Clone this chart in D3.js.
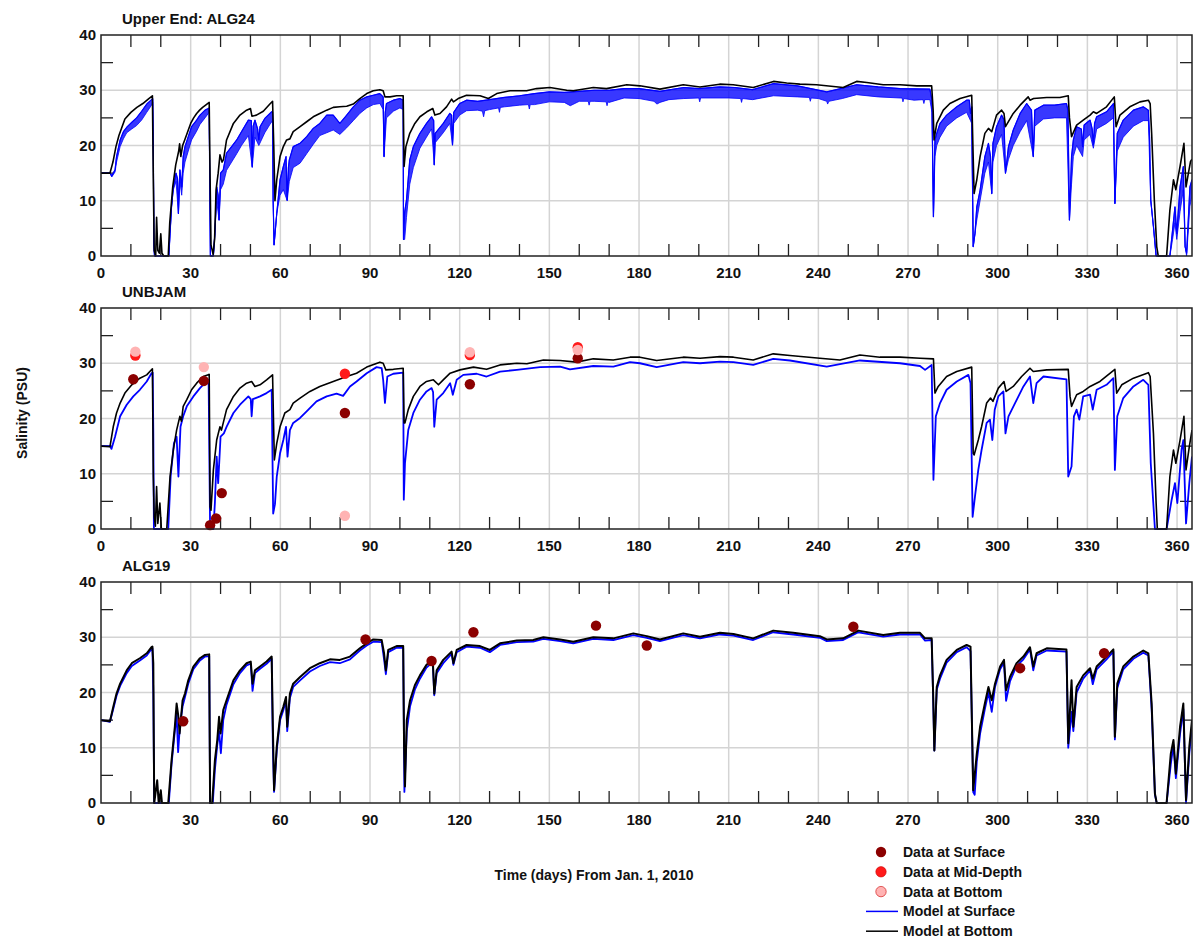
<!DOCTYPE html>
<meta charset="utf-8">
<script src="https://d3js.org/d3.v7.min.js"></script>
<style>
  body { margin: 0; background: #fff; }
  svg text { font-family: "Liberation Sans", Arial, sans-serif; font-weight: bold; fill: #111; }
</style>
<div id="chart"></div>
<script>

// ---- data: [day, salinity] ----

// Upper End: ALG24
var bot1 = [[0,15],[3,15],[4,17],[5,19.8],[6,21.8],[7,23.3],[8,24.8],[10,26],[12,26.9],[14,27.6],[16,28.5],[17.2,29],[17.5,14],[17.8,1],[18.3,0],[18.6,7],[19,1],[19.5,0.5],[20,4],[20.4,0.5],[21,0],[22.5,0],[23,6],[24,12.5],[25,16.5],[26,19],[26.3,20.3],[26.7,18],[27.3,20],[28,21],[29,22.5],[30,24],[31,25],[32,25.8],[33,26.4],[34,26.9],[35,27.3],[36.2,27.8],[36.5,14],[36.8,2],[37.5,0.3],[38,3],[38.5,12],[39.2,15],[39.8,18.3],[40.5,17],[41,17.5],[42,21],[44.3,24],[46.5,25.5],[48.7,26.4],[50,26.7],[50.5,25.3],[52,25.5],[54.3,26.2],[56.5,27.5],[57.4,28],[57.8,20],[58.2,10],[58.8,13.8],[59.9,18],[61,19.8],[62.1,21],[63.2,21.2],[64.3,22.5],[66.6,23.4],[68.8,24.3],[71,25.2],[73.2,25.8],[75.5,26.4],[77.7,26.9],[79.9,27],[82.2,27.1],[84.4,27.5],[86.6,28.5],[88.9,29.4],[91.1,29.9],[93.3,30.1],[94.4,29.9],[95,28.8],[96.7,28.8],[98.9,29],[101.1,29],[101.4,16.2],[102,19.8],[103.3,22.2],[105,24],[106.7,25.2],[109,26.1],[111,26.7],[111.7,25.5],[113.4,25.8],[115.6,27],[117.3,28.4],[117.9,27.9],[119.5,28.5],[122.3,29.1],[126.8,29],[129.6,28.5],[132.4,29.4],[136.8,29.9],[142.4,29.9],[145.7,30.3],[150.2,30.5],[155.8,30],[158,29.9],[164.7,30.5],[169.1,30.3],[175.9,31],[180.3,30.8],[187,30.2],[194.8,31],[200.4,30.6],[207,31.1],[211.5,31],[218.2,30.5],[225,31.6],[229.4,31.3],[233.8,31.1],[239.4,31],[248.3,30.5],[252.8,31.6],[256.2,31.4],[261.7,31],[267.3,31],[272.9,30.8],[277.9,30.8],[278.4,26.4],[278.7,21],[279.6,24],[281.8,26.4],[284,27.6],[287.4,28.5],[291.3,29.1],[291.7,20],[292.1,11.3],[293,13.8],[294.1,18],[295.7,22.2],[296.9,23.1],[298,22.5],[299.6,25.5],[301.3,26.4],[302.1,25.8],[302.6,23.4],[305.2,25.8],[307.5,27.3],[310.2,28.8],[310.8,28.2],[312,28.5],[316.4,28.7],[320.8,28.7],[323.6,29],[324,25],[324.7,21.6],[326.4,23.7],[328.6,24.6],[330.9,25.5],[332,26.1],[333.1,25.8],[336.4,27],[339,28.8],[339.6,23.4],[340.9,25.5],[344.2,27],[347.6,27.9],[350.4,28.2],[351,27.6],[351.5,22.2],[352.4,10.1],[353.2,1.7],[353.7,0],[356.5,0],[357.6,8.3],[358.8,13.8],[359.6,12],[361,16.2],[362.3,20.4],[363,12.5],[363.8,15],[364.5,17.1],[365,17.5]];

// top edge of the blue (surface) band
var surf1 = [[0,15],[3,15],[3.6,14.5],[4.7,15.6],[5.2,18],[6.4,21],[7.5,22.5],[8.6,23.3],[10.3,24.2],[11.9,25],[13.6,26.2],[15.3,27.5],[16.9,28.3],[17.3,28.5],[17.5,20],[17.7,2],[17.9,0],[22.7,0],[23.1,4.1],[23.6,8.9],[24.2,12.5],[25.1,15],[25.6,14],[25.9,7.7],[26.2,13],[26.4,15.6],[27,12.5],[27.5,18],[28.1,19.8],[29.2,21.6],[30.3,23.4],[32,24.6],[33.1,25.5],[34.8,26.4],[35.9,26.7],[36.2,26.8],[36.4,12],[36.6,0],[37.6,0],[38.1,4.1],[38.7,12.5],[39.2,11],[39.5,6.5],[40,15],[40.9,15.6],[42,18.6],[43.7,19.8],[45.4,21],[47,22.5],[49.3,24.6],[50.3,24.5],[50.6,16.2],[50.9,23.5],[51.5,24.6],[52.4,23],[52.8,21],[53.2,23.4],[54.8,24.9],[56.5,25.8],[57.1,26.1],[57.4,26],[57.6,10],[57.9,2],[58.8,7.7],[59.9,13.8],[61,16.2],[61.9,18],[62.3,10.1],[62.7,16],[63,17.4],[64.3,19.8],[66.6,20.4],[68.8,21.6],[71,23.1],[73.2,24],[75.5,25.5],[77.7,25.5],[79.9,24],[82.2,25.5],[84.4,27],[86.6,28.2],[88.9,28.8],[91.1,29.1],[93.3,29.4],[94.4,28.8],[94.7,18],[95.1,26],[95.5,27.6],[97.8,28.2],[100,28.5],[101.1,28.2],[101.2,3],[101.6,8],[102.2,10.1],[103.3,17.4],[104.5,19.8],[106.7,22.2],[108.9,24],[110.6,25.2],[111.3,24.5],[111.5,16.5],[111.8,22.2],[114.5,24],[116.7,25.8],[117.3,25.5],[117.6,20.1],[118,26],[120,27.6],[122.3,28.2],[126,28],[130,28.3],[135,28.7],[140,29],[145,29.4],[150,29.7],[155,29.6],[160,29.8],[165,30],[170,30],[175,30.3],[180,30.3],[187,29.8],[195,30.5],[200,30.3],[207,30.6],[212,30.5],[218,30.1],[225,31.2],[233,30.8],[242.8,29.7],[252.8,31],[260,30.6],[267.3,30.3],[277.3,30.2],[278,28.2],[278.5,7.1],[279,21],[279.6,22.2],[280.7,24],[282.9,25.5],[286.3,27],[289.6,28.2],[290.5,28.2],[290.9,25.8],[291.3,27],[291.8,1.7],[292.4,4.1],[293,8.9],[294.1,11.9],[295.7,18],[296.9,20.4],[297.6,18],[298,11.3],[298.4,20.4],[299.6,23.4],[301.3,25.5],[302.1,24.6],[302.6,15],[303.6,19.8],[305.2,22.8],[307.5,25.8],[309.7,27.6],[311.3,26.4],[311.9,18],[312.4,26.4],[315.3,27.3],[319,27.3],[323,27.6],[323.5,26.4],[324,6.5],[324.7,18],[325.3,21],[326.4,23.4],[328,23],[328.4,19.8],[328.9,23.7],[330.9,24.6],[331.6,23],[332,20.1],[332.4,24],[333.1,25.2],[336.4,26.1],[338.7,27.6],[339.2,9.5],[340,22.2],[342,24.6],[345.4,26.4],[348.7,27],[350.4,26.4],[350.8,21.6],[351.2,10.1],[352.1,5.3],[353,0],[357.6,0],[358.5,4.7],[359.3,8.9],[359.9,4.1],[361,12.5],[362.1,16.2],[362.7,1.7],[363.2,0.5],[364.3,12.5],[365,13.8]];

// bottom edge of the tidal blue band, with its short downward spikes
var surfLo1 = [[0,15],[3,15],[3.6,14.3],[4.7,15.2],[5.2,17],[6.4,19.8],[7.5,21.2],[8.6,22.3],[10.3,23],[11.9,23.6],[13.6,24.6],[15.3,26],[16.9,27.3],[17.3,27.8],[17.5,20],[17.7,2],[17.9,0],[22.7,0],[23.1,4.1],[23.6,8.9],[24.2,12],[25.1,13.5],[25.9,7.7],[26.4,13.5],[27,11],[27.5,15],[28.1,17],[29.2,19],[30.3,21],[32,22.6],[33.1,23.8],[34.8,25],[35.9,25.8],[36.2,26],[36.4,12],[36.6,0],[37.6,0],[38.1,4.1],[38.7,10],[39.5,6.5],[40,12],[40.9,13],[42,15.5],[43.7,17],[45.4,18.5],[47,20],[49.3,21.8],[50.6,16],[51.5,21.5],[52.8,20],[54.8,22.3],[56.5,23.8],[57.4,24.5],[57.6,10],[57.9,2],[58.8,7.7],[59.9,11],[61,12],[62.3,10],[63,13.5],[64.3,16],[66.6,16.8],[68.8,18.5],[71,20.2],[73.2,21.8],[75.5,22.3],[77.7,22.8],[79.9,22],[82.2,23.2],[84.4,24.5],[86.6,25.8],[88.9,26.8],[91.1,27.4],[93.3,27.6],[94.4,26.5],[94.7,18],[95.5,25],[97.8,26.2],[100,26.8],[101.1,26.5],[101.2,3],[101.6,3],[102.2,7],[103.3,13],[104.5,16],[106.7,19.5],[108.9,21.5],[110.6,23],[111.5,16.5],[111.8,20.5],[114.5,22.3],[116.7,24],[117.6,20.1],[118,24],[120,25.5],[122.3,26.3],[126,26.4],[127.6,26.2],[128,25.2],[128.4,26.3],[130,26.5],[133,26.8],[133.3,26],[133.6,26.9],[135,27],[140,27.3],[143,27.4],[143.3,26.6],[143.6,27.4],[145,27.4],[150,27.9],[155,27.8],[157,27.2],[160,28],[163,28],[163.3,27.3],[163.6,28],[165,28],[169,27.9],[169.3,27.2],[169.6,27.9],[170,27.8],[175,28.6],[180,28.5],[185,28],[186,27.5],[187,27.8],[190,28.3],[195,28.5],[200,28.6],[200.3,27.9],[200.6,28.6],[210,28.6],[214,28.5],[214.3,27.8],[214.6,28.5],[218,28.3],[225,29],[233,28.8],[237,28.7],[237.3,28],[237.6,28.6],[240,28.5],[242.8,28],[243.1,27.5],[243.5,28],[248,28.5],[252.8,29.2],[260,28.8],[267.3,28.6],[268,28.6],[268.3,27.9],[268.6,28.5],[272,28.2],[275,28.3],[275.3,27.6],[275.6,28.3],[277.3,28.3],[278,26],[278.5,7.1],[279,18],[279.6,20],[280.7,21.5],[282.9,23.5],[286.3,25],[289.6,26],[290.9,24.5],[291.3,24],[291.8,1.7],[292.4,4.1],[293,6.5],[294.1,10],[295.7,15],[296.9,17],[298,11.3],[298.4,17],[299.6,20],[301.3,22],[302.6,15],[303.6,17.5],[305.2,20],[307.5,22.5],[309.7,24.5],[311.9,18],[312.4,23.5],[315.3,24.8],[319,25],[323,25],[324,6.5],[324.7,13],[325.3,18],[326.4,20],[328.4,18],[328.9,21],[330.9,22],[332,19.5],[333.1,23],[336.4,24],[338.7,25],[339.2,9.5],[340,19],[342,21.5],[345.4,23.5],[348.7,24.5],[350.4,24.5],[351.2,10.1],[352.1,5.3],[353,0],[357.6,0],[358.5,3],[359.3,6],[359.9,3],[361,8],[362.1,12],[362.7,1.7],[363.2,0],[364.3,9],[365,11]];

// UNBJAM
var bot2 = [[0,15],[3,14.9],[4.1,18.5],[5.2,21],[6.4,22.8],[8,24.6],[10.3,26.1],[13,27.3],[15.3,27.9],[17.2,29],[17.5,9.5],[17.8,2.2],[18.2,0.5],[18.6,7.7],[19,1],[19.7,4.7],[20.2,0],[22,0],[23.1,9.5],[24.2,14.3],[25.3,17.9],[26.4,20.4],[26.9,19.5],[27.5,22.2],[28.7,23.4],[30.3,25.2],[32,26.4],[34.2,27.6],[35.9,27.9],[36.2,28],[36.5,4],[36.8,3.4],[37.6,10.7],[38.7,16.1],[39.8,18.5],[40.3,17.9],[42,21.6],[44.3,24],[46.5,25.5],[48.7,26.4],[50.4,26.7],[51.5,25.8],[53.2,26.1],[55.4,27],[57.4,27.9],[57.7,20],[58,12.5],[58.8,15.5],[59.9,18.5],[61.5,21],[63.2,21.6],[64.3,22.8],[66.6,23.7],[69.9,24.9],[73.2,25.8],[77.7,26.7],[82.2,27.6],[85.5,28.2],[88.9,29.3],[93.3,30.2],[94.4,30],[95.3,28.8],[97.8,28.9],[101.1,29.1],[101.4,19.2],[101.7,19.2],[102.8,21.6],[104.5,24],[106.7,25.8],[108.9,26.7],[111.2,27],[112.9,26.1],[114.5,27],[116.8,28.2],[120.1,28.8],[124.6,29.3],[129,28.9],[133.5,29.7],[139.1,30],[142.5,29.9],[148,30.6],[153.6,30.5],[159.1,30.2],[164.7,30.8],[171.4,30.6],[177,31.1],[180.3,31.1],[185.9,30.5],[194.8,31.1],[200.4,30.9],[207.1,31.2],[211.6,31.1],[218.2,30.6],[224.9,31.7],[230.5,31.4],[240.5,30.9],[247.2,30.6],[253.9,31.5],[260.6,31.1],[267.3,31.1],[274,30.9],[278.5,30.8],[279,24.6],[280.1,25.8],[282.9,27.6],[286.3,28.5],[291.3,29.3],[291.8,13.7],[292.1,13.4],[293.5,16.1],[294.6,18.5],[296.3,22.8],[297.6,23.7],[298.4,23.1],[300.2,25.5],[302.1,26.7],[302.8,24.9],[305.2,25.8],[308,27.6],[310.8,29.1],[311.9,28.5],[316.4,28.8],[323.6,28.9],[324.2,24],[324.7,22.2],[326.4,24.3],[328.6,24.9],[330.9,25.8],[334.2,26.7],[339.2,28.9],[339.8,24.6],[341.5,26.1],[345.4,27.3],[350.4,28.3],[351,27.6],[352.1,17.3],[353,4.7],[353.4,0],[356.5,0],[357.6,9.5],[358.8,14.3],[359.6,11.9],[361,16.1],[362.3,20.4],[363,10.7],[364.1,14.9],[365,17.9]];

var surf2 = [[0,15],[3,15],[3.5,14.5],[4.7,16.7],[6.4,20.4],[8.6,22.5],[10.8,24],[13,25.2],[15.3,26.7],[16.9,28.2],[17.3,28.3],[17.5,17.5],[17.7,0],[22.5,0],[23.3,9.5],[24.4,15.5],[25.3,16.7],[25.9,9.5],[26.6,18.5],[27.5,20.4],[28.7,22.2],[30.9,24],[33.1,25.5],[35.3,26.7],[36,27],[36.5,0],[37.6,0],[38.1,4.7],[38.7,13.1],[39.2,8.3],[40,16.7],[41.1,17.3],[42,18.5],[44.3,21],[46.5,22.5],[49.3,24],[50.1,23.5],[50.4,20.4],[50.8,23.5],[53.2,24],[55.4,24.6],[57.1,25.2],[57.6,2.8],[58.2,4.5],[58.8,9.5],[59.9,13.7],[61,16.1],[61.9,18.5],[62.4,13.1],[63.2,17.9],[64.3,19.2],[66.6,20.1],[68.8,21.3],[72.1,23.1],[75.5,24],[78.8,24.5],[81,24.1],[83.3,25.8],[85.5,26.7],[88.9,28.2],[92.2,29.3],[93.9,29.1],[94.4,27],[95,22.8],[95.8,27.6],[97.8,28.1],[101.1,28.3],[101.3,5.3],[101.7,11.9],[102.8,17.9],[104.5,21],[106.7,23.4],[108.9,24.9],[110.6,25.5],[111.1,24.8],[111.5,18.5],[112.3,23.4],[114.5,24.6],[116.8,26.4],[117.2,25.5],[117.7,24.3],[119,27],[121.2,27.9],[125.7,28.1],[129,27.6],[133.5,28.5],[139.1,28.8],[146.9,29.3],[153.6,29.4],[156.9,28.9],[164.7,29.5],[171.4,29.4],[177,30.2],[180.3,30],[185.9,29.3],[194.8,30.2],[200.4,30],[207.1,30.3],[211.6,30.2],[218.2,29.7],[224.9,30.8],[230.5,30.5],[242.8,29.4],[253.9,30.5],[267.3,30],[274,29.5],[275.7,28.8],[277.9,29.7],[278.5,8.9],[279.3,20.4],[280.7,22.8],[282.9,25.2],[286.3,26.7],[290.2,27.9],[290.9,26.4],[291.6,2.2],[292.4,5.9],[293.5,10.7],[294.6,14.3],[296.3,19.2],[297.4,19.8],[298.2,16.1],[299,21.6],[300.2,24],[301.9,24.9],[302.6,17.3],[303.6,20.4],[305.8,22.8],[308.6,25.8],[310.8,27.6],[311.9,22.8],[313,26.4],[315.3,27.6],[323,27.1],[323.6,9.5],[324.7,11.3],[325.5,20.4],[326.4,21.6],[327.3,19.8],[328.6,24],[330.9,24.3],[331.8,21.6],[333.1,25.2],[336.4,26.1],[338.7,27.3],[339.2,10.7],[340,20.4],[342,23.7],[345.4,25.8],[348.7,27],[350.4,26.1],[351.2,11.9],[352.6,0],[356.5,0],[358.2,5.3],[359.3,8.3],[360.1,4.7],[361.5,14.3],[362.1,16.1],[363,1],[364.1,8.3],[365,13.1]];

var obsSurf2 = [[10.8,27.1],[34.4,26.8],[36.5,0.7],[38.5,1.9],[40.4,6.5],[81.6,21],[123.4,26.2],[159.5,30.9]];
var obsMid2  = [[11.5,31.4],[81.6,28.1],[123.4,31.5],[159.5,32.9]];
var obsBot2  = [[11.5,32.1],[34.4,29.3],[81.6,2.4],[123.4,32],[159.5,32.4]];

// ALG19
var bot3 = [[0,15],[3,14.8],[4.1,17.4],[5.2,19.8],[6.4,21.6],[8.6,24],[10.3,25.3],[13,26.2],[15.3,27.1],[16.9,28.2],[17.2,28.3],[17.5,25.3],[17.8,0],[18.8,4.1],[19.3,0],[20,2.3],[20.4,0],[22.5,0],[23.6,7.7],[24.7,13.8],[25.3,18],[25.9,15.6],[26.3,12.6],[27.3,18.6],[28.1,19.8],[29.2,22.2],[30.9,24.7],[33.1,26.2],[34.8,26.8],[36.2,26.9],[36.5,0],[37.2,0],[38.1,7.7],[38.9,11.4],[39.5,15.6],[40,12.6],[40.9,16.8],[42,18.6],[44.3,22.2],[46.5,24],[48.7,25.3],[50.1,25.6],[50.7,21.6],[51.5,24],[53.2,24.7],[55.4,25.6],[57.1,26.5],[57.5,13.8],[57.9,2.3],[58.8,10.2],[59.9,15.6],[61,17.4],[61.9,19.2],[62.3,13.8],[63.2,19.8],[64.3,21.6],[66.6,22.8],[69.9,24.4],[73.2,25.3],[76.6,26],[79.9,25.9],[83.3,26.5],[86.6,28],[88.9,28.9],[91.1,29.6],[93.9,29.5],[94.7,27.1],[95.3,24],[96.1,27.7],[98.9,28.4],[101.1,28.4],[101.4,10.2],[101.7,3],[102.3,15],[103.4,18.6],[105,21.3],[106.7,23.1],[108.9,25],[111,25.9],[111.5,19.8],[112.3,24],[114.5,25.9],[117.3,27.4],[117.9,25.3],[119,27.7],[122.3,28.6],[126.8,28.4],[130.1,27.7],[133.5,28.9],[139.1,29.4],[144.6,29.5],[148,30],[153.6,29.6],[158,29.2],[164.7,30],[171.4,29.8],[178.1,30.7],[182.6,30.2],[187,29.6],[194.8,30.7],[200.4,30.1],[207.1,30.8],[211.6,30.6],[218.2,29.8],[224.9,31.2],[231.6,30.8],[240.5,30.2],[242.8,29.6],[248.3,29.8],[253.4,31.2],[261.7,30.4],[267.3,30.8],[274,30.8],[275.7,29.8],[277.9,29.8],[278.4,19.8],[278.8,9.5],[279.6,21],[280.7,23.1],[282.9,25.9],[286.3,27.7],[289.6,28.6],[290.9,28.3],[291.8,2.3],[293,8.9],[294.1,13.8],[295.7,18],[296.9,21],[298,18.6],[299.1,21.6],[300.8,24.7],[302.1,25.9],[302.8,20.4],[304.1,22.8],[306.3,25.3],[308.6,26.5],[310.8,28.2],[311.9,24.7],[313,27.1],[316.4,28],[323,27.8],[323.6,10.8],[324.7,22.2],[325.3,13.8],[326.4,21],[328.6,23.1],[330.9,24.4],[331.8,22.5],[333.1,24.7],[336.4,26.5],[338.7,27.8],[339.2,12],[340,21.6],[342,24.7],[345.4,26.5],[348.7,27.6],[350.4,27.1],[351.5,18],[352.6,1.7],[353.2,0],[356.5,0],[357.9,8.9],[358.8,11.4],[359.6,5.3],[361,13.8],[362.1,18],[363,0.5],[364.1,10.2],[365,15]];

var surf3 = [[0,15],[3,14.7],[4.1,17],[5.2,19.4],[6.4,21.2],[8.6,23.5],[10.3,24.8],[13,25.8],[15.3,26.7],[16.9,27.9],[17.2,28],[17.5,20],[17.8,0],[22.7,0],[23.6,7],[24.7,13],[25.3,16],[25.8,9.2],[26.4,14],[27.3,17.5],[28.1,19.2],[29.2,21.6],[30.9,24.2],[33.1,25.8],[34.8,26.5],[36.2,26.6],[36.5,0],[37.4,0],[38.1,6],[38.9,10.5],[39.5,13],[40.1,9],[40.9,15],[42,17.8],[44.3,21.5],[46.5,23.5],[48.7,24.9],[50.1,25.2],[50.7,20.3],[51.5,23.5],[53.2,24.3],[55.4,25.2],[57.1,26.1],[57.5,10],[57.9,2],[58.8,9.5],[59.9,15],[61,16.8],[61.9,18.6],[62.3,13],[63.2,19],[64.3,21],[66.6,22.2],[69.9,23.8],[73.2,24.8],[76.6,25.5],[79.9,25.3],[83.3,26],[86.6,27.6],[88.9,28.5],[91.1,29.2],[93.9,29.1],[94.7,26],[95.3,23.3],[96.1,27.3],[98.9,28.1],[101.1,28.1],[101.5,2],[102.3,13],[103.4,17.5],[105,20.5],[106.7,22.5],[108.9,24.5],[111,25.5],[111.5,19.5],[112.3,23.5],[114.5,25.3],[117.3,27],[117.9,25],[119,27.3],[122.3,28.3],[126.8,28.1],[130.1,27.3],[133.5,28.6],[139.1,29.1],[144.6,29.2],[148,29.7],[153.6,29.3],[158,28.9],[164.7,29.7],[171.4,29.5],[178.1,30.4],[182.6,29.9],[187,29.3],[194.8,30.4],[200.4,29.8],[207.1,30.5],[211.6,30.3],[218.2,29.5],[224.9,30.9],[231.6,30.5],[240.5,29.9],[242.8,29.3],[248.3,29.5],[253.4,30.9],[261.7,30.1],[267.3,30.5],[274,30.5],[275.7,29.4],[277.9,29.5],[278.4,19],[278.8,9.5],[279.6,20.5],[280.7,22.5],[282.9,25.4],[286.3,27.3],[289.6,28.2],[290.9,27.5],[291.8,2],[292.3,1.5],[293,7.5],[294.1,12.5],[295.7,17],[296.9,20],[298,16.5],[299.1,21],[300.8,24.2],[302.1,25.4],[302.8,18.5],[304.1,22],[306.3,24.8],[308.6,26],[310.8,27.8],[311.9,24],[313,26.7],[316.4,27.6],[323,27.4],[323.6,10],[324.7,16.5],[325.3,13],[326.4,20],[328.6,22.5],[330.9,24],[331.8,21.5],[333.1,24.2],[336.4,26],[338.7,27.4],[339.2,11.5],[340,20.8],[342,24.2],[345.4,26.1],[348.7,27.2],[350.4,26.7],[351.5,17],[352.6,1.5],[353.2,0],[356.5,0],[357.9,7],[358.8,10.5],[359.6,4.5],[361,12.5],[362.1,17],[363,0],[364.1,9],[365,14]];

var obsSurf3 = [[27.5,14.8],[88.5,29.6],[110.6,25.7],[124.6,30.9],[165.6,32.1],[182.6,28.5],[251.7,31.9],[307.5,24.4],[335.6,27.1]];

// axes
var dayTicks = [0,30,60,90,120,150,180,210,240,270,300,330,360];
var psuTicks = [0,10,20,30,40];

var legendItems = ["Data at Surface","Data at Mid-Depth","Data at Bottom","Model at Surface","Model at Bottom"];

// ---- layout ----
var width = 1195, height = 947;
var plotLeft = 101, plotRight = 1192, plotH = 221;
var colSurf = "#8b0000", colMid = "#ff1a1a", colBot = "#ffb3b3";
var blue = "#0000ff";

var svg = d3.select("#chart").append("svg")
    .attr("width", width)
    .attr("height", height);

var x = d3.scaleLinear().domain([0, 365]).range([plotLeft, plotRight]);

var panels = [
  {title: "Upper End: ALG24", top: 35,  bot: bot1, surf: surf1, surfLo: surfLo1, obs: []},
  {title: "UNBJAM",           top: 308, bot: bot2, surf: surf2, obs: [[obsSurf2, colSurf], [obsMid2, colMid], [obsBot2, colBot]]},
  {title: "ALG19",            top: 582, bot: bot3, surf: surf3, obs: [[obsSurf3, colSurf]]}
];

panels.forEach(function(p, i) {
  var y = d3.scaleLinear().domain([0, 40]).range([p.top + plotH, p.top]);
  var g = svg.append("g");

  var line = d3.line()
    .x(function(d) { return x(d[0]); })
    .y(function(d) { return y(d[1]); });

  // grid
  g.selectAll(".vgrid").data(dayTicks.slice(1)).enter().append("line")
    .attr("x1", function(d) { return x(d); }).attr("x2", function(d) { return x(d); })
    .attr("y1", p.top).attr("y2", p.top + plotH)
    .attr("stroke", "#d4d4d4").attr("stroke-width", 1.5);
  g.selectAll(".hgrid").data([10, 20, 30]).enter().append("line")
    .attr("x1", plotLeft).attr("x2", plotRight)
    .attr("y1", function(d) { return y(d); }).attr("y2", function(d) { return y(d); })
    .attr("stroke", "#d4d4d4").attr("stroke-width", 1.5);

  // inner ticks
  var minorX = d3.range(10, 365, 10).filter(function(d) { return d % 30 != 0; });
  [p.top, p.top + plotH].forEach(function(yy, k) {
    g.selectAll(".tx" + k).data(minorX).enter().append("line")
      .attr("x1", function(d) { return x(d); }).attr("x2", function(d) { return x(d); })
      .attr("y1", yy).attr("y2", k == 0 ? yy + 12 : yy - 12)
      .attr("stroke", "#222").attr("stroke-width", 1.3);
  });
  [plotLeft, plotRight].forEach(function(xx, k) {
    g.selectAll(".ty" + k).data([5, 15, 25, 35]).enter().append("line")
      .attr("y1", function(d) { return y(d); }).attr("y2", function(d) { return y(d); })
      .attr("x1", xx).attr("x2", k == 0 ? xx + 12 : xx - 12)
      .attr("stroke", "#222").attr("stroke-width", 1.3);
  });

  // model lines
  var clipId = "clip" + i;
  svg.append("clipPath").attr("id", clipId).append("rect")
    .attr("x", plotLeft).attr("y", p.top - 2).attr("width", plotRight - plotLeft).attr("height", plotH + 3);
  var lines = g.append("g").attr("clip-path", "url(#" + clipId + ")");

  if (p.surfLo) {
    lines.append("path")
      .attr("d", line(p.surf.concat(p.surfLo.slice().reverse())) + "Z")
      .attr("fill", blue).attr("fill-opacity", 0.78)
      .attr("stroke", blue).attr("stroke-width", 0.8).attr("stroke-linejoin", "round");
  }
  lines.append("path")
    .attr("d", line(p.surf))
    .attr("fill", "none").attr("stroke", blue)
    .attr("stroke-width", i == 0 ? 1.2 : 1.8).attr("stroke-linejoin", "round");
  lines.append("path")
    .attr("d", line(p.bot))
    .attr("fill", "none").attr("stroke", "#000")
    .attr("stroke-width", i == 2 ? 2 : 1.6).attr("stroke-linejoin", "round");

  // observations
  p.obs.forEach(function(o) {
    g.selectAll(null).data(o[0]).enter().append("circle")
      .attr("cx", function(d) { return x(d[0]); })
      .attr("cy", function(d) { return y(d[1]); })
      .attr("r", 5.2)
      .attr("fill", o[1]);
  });

  // frame
  g.append("rect")
    .attr("x", plotLeft).attr("y", p.top).attr("width", plotRight - plotLeft).attr("height", plotH)
    .attr("fill", "none").attr("stroke", "#222").attr("stroke-width", 1.5);

  // tick labels
  g.selectAll(".xl").data(dayTicks).enter().append("text")
    .attr("x", function(d) { return x(d); })
    .attr("y", p.top + plotH + 22)
    .attr("text-anchor", "middle").style("font-size", "15px")
    .text(function(d) { return d; });
  g.selectAll(".yl").data(psuTicks).enter().append("text")
    .attr("x", 96)
    .attr("y", function(d) { return y(d) + 5; })
    .attr("text-anchor", "end").style("font-size", "15px")
    .text(function(d) { return d; });

  // panel title
  g.append("text")
    .attr("x", 122).attr("y", p.top - 11)
    .style("font-size", "15px")
    .text(p.title);
});

// axis titles
svg.append("text")
  .attr("transform", "translate(27,413) rotate(-90)")
  .attr("text-anchor", "middle").style("font-size", "14px")
  .text("Salinity (PSU)");
svg.append("text")
  .attr("x", 594).attr("y", 880)
  .attr("text-anchor", "middle").style("font-size", "14px")
  .text("Time (days) From Jan. 1, 2010");

// legend
var legend = svg.selectAll(".legend").data(legendItems).enter().append("g")
  .attr("transform", function(d, i) { return "translate(0," + (852 + i * 19.8) + ")"; });
legend.filter(function(d, i) { return i < 3; }).append("circle")
  .attr("cx", 881).attr("cy", 0).attr("r", 5.2)
  .attr("fill", function(d, i) { return [colSurf, colMid, colBot][i]; })
  .attr("stroke", function(d, i) { return i == 0 ? "none" : "#c00"; })
  .attr("stroke-width", 0.6);
legend.filter(function(d, i) { return i >= 3; }).append("line")
  .attr("x1", 866).attr("x2", 898).attr("y1", 0).attr("y2", 0)
  .attr("stroke", function(d, i) { return i == 0 ? blue : "#000"; })
  .attr("stroke-width", 1.5);
legend.append("text")
  .attr("x", 903).attr("y", 5)
  .style("font-size", "14px")
  .text(function(d) { return d; });

</script>
